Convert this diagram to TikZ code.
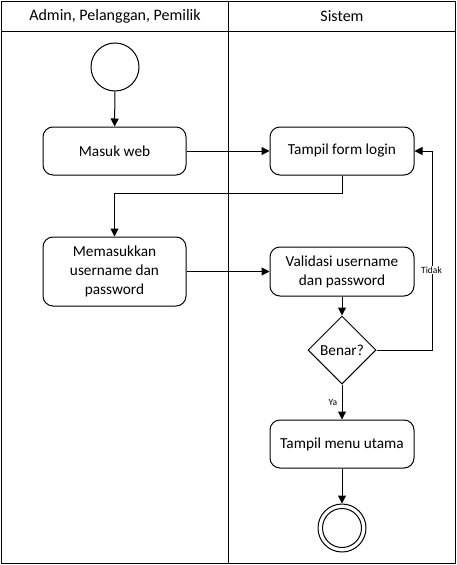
\documentclass[tikz,border=0pt]{standalone}
\usepackage{fontspec}
\setmainfont{Carlito}
\usetikzlibrary{arrows.meta,shapes.geometric}
\begin{document}
\begin{tikzpicture}[x=1pt,y=-1pt,
  line width=1pt,
  act/.style={draw,rounded corners=10pt,minimum width=143pt,align=center,font=\fontsize{15.3}{19}\selectfont,inner sep=0pt},
  conn/.style={-{Triangle[length=8pt,width=8pt]}},
  hdr/.style={font=\fontsize{16}{20}\selectfont},
  lbl/.style={font=\fontsize{9.5}{11}\selectfont,inner sep=1pt}]
\useasboundingbox (0,0) rectangle (457,565);
% frame
\draw (1.5,1.5) rectangle (455.5,563);
\draw (1.5,31) -- (455.5,31);
\draw (228,1.5) -- (228,563);
\node[hdr] (h1) at (115,16) {Admin, Pelanggan, Pemilik};
\node[hdr] (h2) at (342,16) {Sistem};
% nodes
\node[draw,circle,minimum size=48pt,inner sep=0pt] (start) at (115,67) {};
\node[act,minimum height=48pt] (masuk) at (114.5,151) {Masuk web};
\node[act,minimum width=144pt,minimum height=48pt] (login) at (342,151) {Tampil form login};
\node[act,minimum height=69pt] (memasuk) at (114.5,271.5) {Memasukkan\\username dan\\password};
\node[act,minimum width=144pt,minimum height=49pt] (valid) at (342,271.5) {Validasi username\\dan password};
\node[draw,diamond,minimum width=68pt,minimum height=68pt,inner sep=0pt,font=\fontsize{15.3}{19}\selectfont] (benar) at (342,350) {Benar?};
\node[act,minimum width=144pt,minimum height=48pt] (menu) at (342,444) {Tampil menu utama};
\node[draw,circle,minimum size=48pt,inner sep=0pt] (end) at (342,528) {};
\node[draw,circle,minimum size=39pt,inner sep=0pt] (endin) at (342,528) {};
% connectors
\coordinate (elb) at (0,193);
\coordinate (fb) at (432,0);
\draw[conn] (start) -- (masuk);
\draw[conn] (masuk) -- (login);
\draw[conn] (login.south) -- (login.south |- elb) -| (memasuk.north);
\draw[conn] (memasuk) -- (valid);
\draw[conn] (valid) -- (benar);
\draw[conn] (benar.east) -- (benar.east -| fb) -- (login.east -| fb) -- (login.east);
\node[lbl,fill=white] (tidak) at (431.5,270) {Tidak};
\draw[conn] (benar) -- (menu);
\node[lbl] (ya) at (333,402) {Ya};
\draw[conn] (menu) -- (end);
\end{tikzpicture}
\end{document}
